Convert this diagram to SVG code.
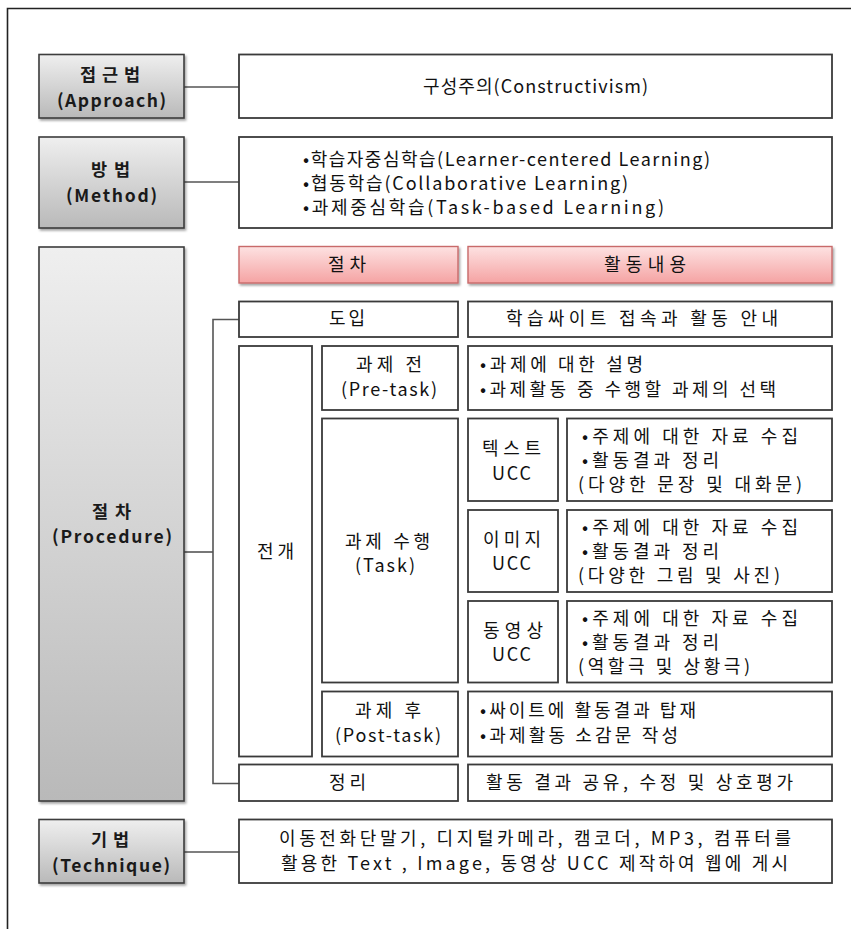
<svg xmlns="http://www.w3.org/2000/svg" width="851" height="929" viewBox="0 0 851 929">
<defs>
<linearGradient id="gray" x1="0" y1="0" x2="0" y2="1">
<stop offset="0" stop-color="#efefef"/>
<stop offset="1" stop-color="#b9b9b9"/>
</linearGradient>
<linearGradient id="pink" x1="0" y1="0" x2="0" y2="1">
<stop offset="0" stop-color="#fde2e2"/>
<stop offset="1" stop-color="#f5a3a3"/>
</linearGradient>
<filter id="sh" x="-10%" y="-10%" width="120%" height="130%">
<feDropShadow dx="1.5" dy="2" stdDeviation="1.2" flood-color="#000" flood-opacity="0.35"/>
</filter>
</defs>
<style>
.g{fill:url(#gray);stroke:#3c3c3c;stroke-width:1.6;filter:url(#sh)}
.p{fill:url(#pink);stroke:#c86a6a;stroke-width:1.4;filter:url(#sh)}
.w{fill:#fff;stroke:#3a3a3a;stroke-width:1.8}
.c{fill:none;stroke:#555;stroke-width:1.6}
text{font-family:"Noto Sans CJK KR","Noto Sans",sans-serif;font-size:18px;fill:#111}
.b{font-weight:bold;fill:#1a1a1a;font-size:17.5px}
</style>
<rect width="851" height="929" fill="#fff"/>
<path d="M7.5 929 V8.5 H851" fill="none" stroke="#222" stroke-width="1.6"/>

<g id="connectors">
<line class="c" x1="184" y1="87" x2="239" y2="87"/>
<line class="c" x1="184" y1="182" x2="239" y2="182"/>
<line class="c" x1="184" y1="852" x2="239" y2="852"/>
<line class="c" x1="184" y1="552" x2="213" y2="552"/>
<path class="c" d="M239 319.5 H213 V783.5 H239"/>
</g>

<g id="approach">
<rect class="g" x="39" y="54.5" width="145" height="63.5"/>
<text class="b" x="80" y="81" textLength="60" lengthAdjust="spacing">접근법</text>
<text class="b" x="57" y="107" textLength="109" lengthAdjust="spacing">(Approach)</text>
</g>
<g id="approach-content">
<rect class="w" x="239" y="54.5" width="593" height="63.5"/>
<text x="423" y="93" textLength="225" lengthAdjust="spacing">구성주의(Constructivism)</text>
</g>

<g id="method">
<rect class="g" x="39" y="137" width="145" height="91"/>
<text class="b" x="91" y="176" textLength="39" lengthAdjust="spacing">방법</text>
<text class="b" x="66" y="202" textLength="91" lengthAdjust="spacing">(Method)</text>
</g>
<g id="method-content">
<rect class="w" x="239" y="137" width="593" height="91"/>
<text x="303" y="166" textLength="407" lengthAdjust="spacing">•학습자중심학습(Learner-centered Learning)</text>
<text x="303" y="190" textLength="325" lengthAdjust="spacing">•협동학습(Collaborative Learning)</text>
<text x="303" y="214" textLength="361" lengthAdjust="spacing">•과제중심학습(Task-based Learning)</text>
</g>

<g id="procedure">
<rect class="g" x="39" y="247" width="145" height="554"/>
<text class="b" x="92" y="518" textLength="39" lengthAdjust="spacing">절차</text>
<text class="b" x="52" y="543" textLength="120" lengthAdjust="spacing">(Procedure)</text>
</g>

<g id="header-step">
<rect class="p" x="239" y="246.5" width="219" height="36.5"/>
<text x="328" y="271" textLength="38" lengthAdjust="spacing">절차</text>
</g>
<g id="header-activity">
<rect class="p" x="468" y="246.5" width="364" height="36.5"/>
<text x="604" y="271" textLength="82" lengthAdjust="spacing">활동내용</text>
</g>

<g id="intro">
<rect class="w" x="239" y="301.5" width="219" height="35.5"/>
<text x="329" y="325" textLength="36" lengthAdjust="spacing">도입</text>
</g>
<g id="intro-content">
<rect class="w" x="468" y="301.5" width="364" height="35.5"/>
<text x="506" y="325" textLength="272" lengthAdjust="spacing">학습싸이트 접속과 활동 안내</text>
</g>

<g id="develop">
<rect class="w" x="239" y="346" width="73" height="410.5"/>
<text x="257" y="558" textLength="37" lengthAdjust="spacing">전개</text>
</g>

<g id="pretask">
<rect class="w" x="322" y="346" width="136" height="64"/>
<text x="356" y="371" textLength="66" lengthAdjust="spacing">과제 전</text>
<text x="341" y="396" textLength="96" lengthAdjust="spacing">(Pre-task)</text>
</g>
<g id="pretask-content">
<rect class="w" x="468" y="346" width="364" height="64"/>
<text x="480" y="371" textLength="163" lengthAdjust="spacing">•과제에 대한 설명</text>
<text x="480" y="396" textLength="296" lengthAdjust="spacing">•과제활동 중 수행할 과제의 선택</text>
</g>

<g id="task">
<rect class="w" x="322" y="418.5" width="136" height="264"/>
<text x="345" y="548" textLength="85" lengthAdjust="spacing">과제 수행</text>
<text x="355" y="572" textLength="60" lengthAdjust="spacing">(Task)</text>
</g>

<g id="text-ucc">
<rect class="w" x="468" y="418.5" width="90" height="82.5"/>
<text x="482" y="455" textLength="59" lengthAdjust="spacing">텍스트</text>
<text x="492" y="480" textLength="39" lengthAdjust="spacing">UCC</text>
</g>
<g id="text-ucc-content">
<rect class="w" x="567" y="418.5" width="265" height="82.5"/>
<text x="582" y="443" textLength="216" lengthAdjust="spacing">•주제에 대한 자료 수집</text>
<text x="582" y="467" textLength="137" lengthAdjust="spacing">•활동결과 정리</text>
<text x="578" y="491" textLength="224" lengthAdjust="spacing">(다양한 문장 및 대화문)</text>
</g>

<g id="image-ucc">
<rect class="w" x="468" y="510" width="90" height="82"/>
<text x="483" y="546" textLength="58" lengthAdjust="spacing">이미지</text>
<text x="492" y="570" textLength="39" lengthAdjust="spacing">UCC</text>
</g>
<g id="image-ucc-content">
<rect class="w" x="567" y="510" width="265" height="82"/>
<text x="582" y="534" textLength="216" lengthAdjust="spacing">•주제에 대한 자료 수집</text>
<text x="582" y="558" textLength="137" lengthAdjust="spacing">•활동결과 정리</text>
<text x="578" y="582" textLength="202" lengthAdjust="spacing">(다양한 그림 및 사진)</text>
</g>

<g id="video-ucc">
<rect class="w" x="468" y="601" width="90" height="81.5"/>
<text x="483" y="637" textLength="60" lengthAdjust="spacing">동영상</text>
<text x="492" y="661" textLength="39" lengthAdjust="spacing">UCC</text>
</g>
<g id="video-ucc-content">
<rect class="w" x="567" y="601" width="265" height="81.5"/>
<text x="582" y="625" textLength="216" lengthAdjust="spacing">•주제에 대한 자료 수집</text>
<text x="582" y="649" textLength="137" lengthAdjust="spacing">•활동결과 정리</text>
<text x="578" y="673" textLength="172" lengthAdjust="spacing">(역할극 및 상황극)</text>
</g>

<g id="posttask">
<rect class="w" x="322" y="691.5" width="136" height="65"/>
<text x="355" y="717" textLength="66" lengthAdjust="spacing">과제 후</text>
<text x="335" y="742" textLength="106" lengthAdjust="spacing">(Post-task)</text>
</g>
<g id="posttask-content">
<rect class="w" x="468" y="691.5" width="364" height="65"/>
<text x="480" y="717" textLength="216" lengthAdjust="spacing">•싸이트에 활동결과 탑재</text>
<text x="480" y="742" textLength="198" lengthAdjust="spacing">•과제활동 소감문 작성</text>
</g>

<g id="wrapup">
<rect class="w" x="239" y="764.5" width="219" height="36.5"/>
<text x="329" y="789" textLength="37" lengthAdjust="spacing">정리</text>
</g>
<g id="wrapup-content">
<rect class="w" x="468" y="764.5" width="364" height="36.5"/>
<text x="486" y="789" textLength="307" lengthAdjust="spacing">활동 결과 공유, 수정 및 상호평가</text>
</g>

<g id="technique">
<rect class="g" x="39" y="819.5" width="145" height="63.5"/>
<text class="b" x="91" y="846" textLength="38" lengthAdjust="spacing">기법</text>
<text class="b" x="52" y="872" textLength="118" lengthAdjust="spacing">(Technique)</text>
</g>
<g id="technique-content">
<rect class="w" x="239" y="819.5" width="593" height="63.5"/>
<text x="279" y="845" textLength="512" lengthAdjust="spacing">이동전화단말기, 디지털카메라, 캠코더, MP3, 컴퓨터를</text>
<text x="281" y="870" textLength="507" lengthAdjust="spacing">활용한 Text , Image, 동영상 UCC 제작하여 웹에 게시</text>
</g>
</svg>
